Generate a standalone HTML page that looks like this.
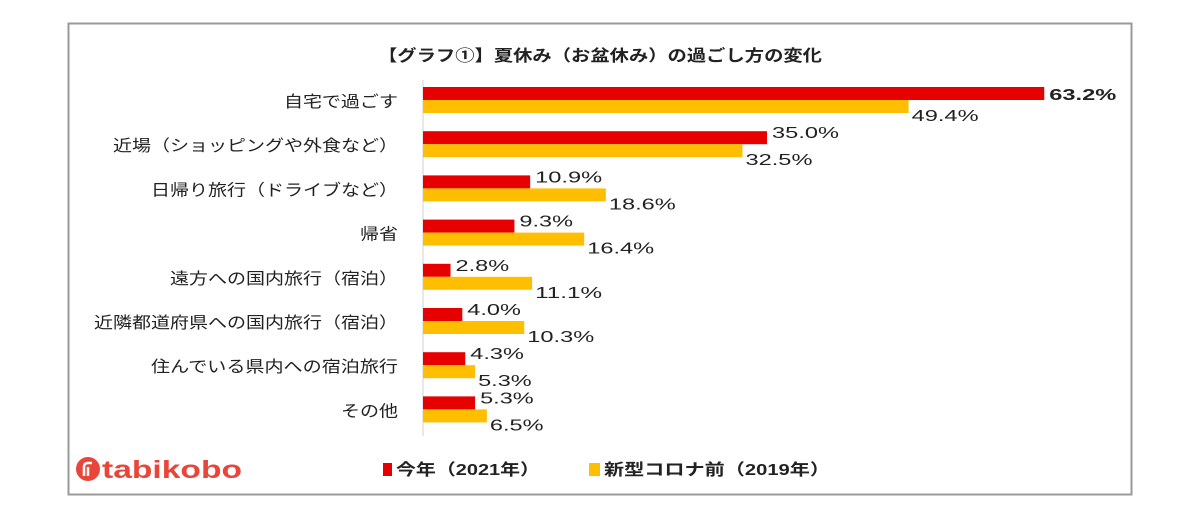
<!DOCTYPE html>
<html><head><meta charset="utf-8"><style>
body{margin:0;background:#fff;width:1200px;height:520px;overflow:hidden;font-family:"Liberation Sans","Noto Sans CJK JP",sans-serif}
svg text{font-family:"Liberation Sans","Noto Sans CJK JP",sans-serif}
</style></head><body>
<svg width="1200" height="520">
<rect x="68.5" y="23.5" width="1063" height="471" fill="#fff" stroke="#9a9a9a" stroke-width="2"/>
<text x="378" y="61" textLength="444" lengthAdjust="spacingAndGlyphs" font-size="16" font-weight="bold" fill="#222">【グラフ①】夏休み（お盆休み）の過ごし方の変化</text>
<line x1="423" y1="80" x2="423" y2="436" stroke="#d0d0d0"/>
<g id="bars"></g>
<g>
<circle cx="88" cy="469" r="12" fill="#e8463a"/>
<path d="M84 476 v-9 q0-4 4-4 h4 M88 467 v9" stroke="#fff" stroke-width="2.5" fill="none"/>
<text x="102" y="478" textLength="140" lengthAdjust="spacingAndGlyphs" font-size="25" font-weight="bold" fill="#e8463a">tabikobo</text>
</g>
<g>
<rect x="383" y="463" width="9" height="13" fill="#e60000"/>
<text x="396" y="475" textLength="144" lengthAdjust="spacingAndGlyphs" font-size="16" font-weight="bold" fill="#222">今年（2021年）</text>
<rect x="589" y="463" width="11" height="13" fill="#ffbf00"/>
<text x="604" y="475" textLength="226" lengthAdjust="spacingAndGlyphs" font-size="16" font-weight="bold" fill="#222">新型コロナ前（2019年）</text>
</g>
</svg>
<script>
const categories=["自宅で過ごす","近場（ショッピングや外食など）","日帰り旅行（ドライブなど）","帰省","遠方への国内旅行（宿泊）","近隣都道府県への国内旅行（宿泊）","住んでいる県内への宿泊旅行","その他"];
const values2021=[63.2,35.0,10.9,9.3,2.8,4.0,4.3,5.3];
const values2019=[49.4,32.5,18.6,16.4,11.1,10.3,5.3,6.5];
const x0=423,pxPer=9.83;
function xScale(v){return x0+v*pxPer;}
function yCenter(i){return 101+i*44.2;}
const g=document.getElementById('bars');
const NS='http://www.w3.org/2000/svg';
function mk(t,a){const e=document.createElementNS(NS,t);for(const k in a)e.setAttribute(k,a[k]);g.appendChild(e);return e;}
categories.forEach((c,i)=>{
  const yc=yCenter(i);
  const lw=c.length*19;
  const lab=mk('text',{x:398-lw,y:yc+6,textLength:lw,lengthAdjust:'spacingAndGlyphs','font-size':16,fill:'#222'});
  lab.textContent=c;
  
  
  const r=mk('rect',{x:x0,y:yc-14,width:xScale(values2021[i])-x0,height:13,fill:'#e60000'});
  
  
  const o=mk('rect',{x:x0,y:yc-1,width:xScale(values2019[i])-x0,height:13,fill:'#ffbf00'});
  
  
  const s1=values2021[i].toFixed(1)+'%';
  const t1=mk('text',{x:xScale(values2021[i])+5,y:i==0?yc-1:yc-7,textLength:s1.length*13.4,lengthAdjust:'spacingAndGlyphs','font-size':16,fill:'#222','font-weight':i==0?'bold':'normal'});
  t1.textContent=s1;
  
  
  const s2=values2019[i].toFixed(1)+'%';
  const t2=mk('text',{x:xScale(values2019[i])+3,y:yc+20,textLength:s2.length*13.4,lengthAdjust:'spacingAndGlyphs','font-size':16,fill:'#222'});
  t2.textContent=s2;
  
  
});
</script>
</body></html>
